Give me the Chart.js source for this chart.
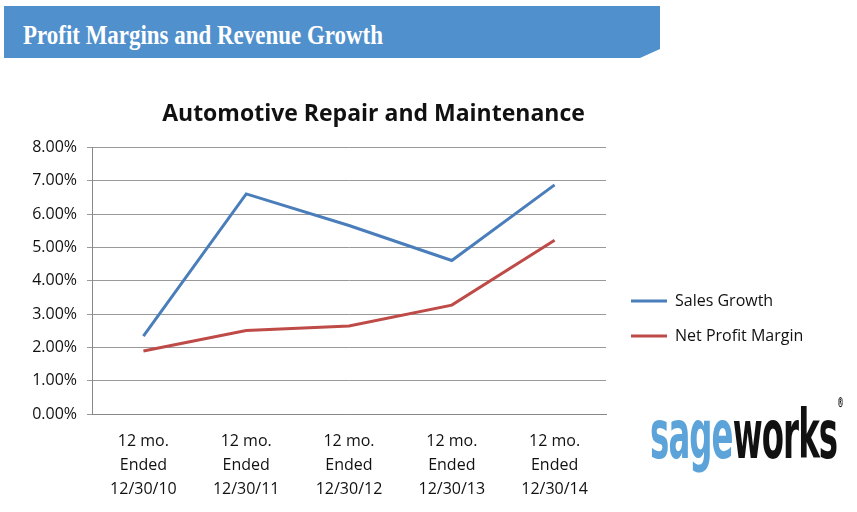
<!DOCTYPE html>
<html><head><meta charset="utf-8">
<script src="https://cdn.jsdelivr.net/npm/chart.js@4"></script>
<style>
html,body{margin:0;padding:0;background:#fff;width:857px;height:512px;overflow:hidden;}
#banner{position:absolute;left:4px;top:6px;width:656px;height:52px;background:#5090CC;
 clip-path:polygon(0 0,656px 0,656px 43px,636px 52px,0 52px);}
#banner span{position:absolute;left:19px;top:16px;color:#fff;font:bold 27px/27px "Liberation Serif","Times New Roman",serif;transform-origin:0 0;transform:scaleX(0.85);white-space:nowrap;}
#wrap{position:absolute;left:0;top:85px;width:857px;height:427px;}
#logo{position:absolute;left:650px;top:395px;font:bold 40px "DejaVu Sans Condensed","DejaVu Sans",sans-serif;transform-origin:0 0;transform:scale(0.9,1.7);white-space:nowrap;letter-spacing:-1px;}
#logo .a{color:#5BA3D9}#logo .b{color:#111}
#logo sup{font-size:8px;vertical-align:top;}
</style></head><body>
<div id="banner"><span>Profit Margins and Revenue Growth</span></div>
<div id="wrap"><canvas id="c"></canvas></div>
<div id="logo"><span class="a">sage</span><span class="b">works</span><sup class="b">®</sup></div>
<script>
const categories = [["12 mo.","Ended","12/30/10"],["12 mo.","Ended","12/30/11"],["12 mo.","Ended","12/30/12"],["12 mo.","Ended","12/30/13"],["12 mo.","Ended","12/30/14"]];
const salesGrowth = [2.34, 6.61, 5.66, 4.61, 6.88];
const netProfitMargin = [1.89, 2.51, 2.64, 3.27, 5.22];
const chartTitle = "Automotive Repair and Maintenance";

const placeBlocks = {id:'placeBlocks', beforeInit(chart){
  const lg = chart.legend; const fitL = lg.fit, drawL = lg.draw;
  lg.fit = function(){ fitL.call(this); this.width = 251; };
  lg.draw = function(){ const c=this.ctx; c.save(); c.translate(6,20); drawL.call(this); c.restore(); };
  const tb = chart.titleBlock; const drawT = tb.draw;
  tb.draw = function(){ const c=this.ctx; c.save(); c.translate(-60,0); drawT.call(this); c.restore(); };
}};

new Chart(document.getElementById('c'), {
  type:'line',
  data:{labels:categories, datasets:[
    {label:'Sales Growth', data:salesGrowth, borderColor:'#4A7EBB', backgroundColor:'#4A7EBB', borderWidth:3, pointRadius:0, pointStyle:'line', tension:0},
    {label:'Net Profit Margin', data:netProfitMargin, borderColor:'#BE4B48', backgroundColor:'#BE4B48', borderWidth:3, pointRadius:0, pointStyle:'line', tension:0}
  ]},
  options:{
    responsive:true, maintainAspectRatio:false, animation:false,
    layout:{padding:{left:10,right:0,top:0,bottom:0}},
    plugins:{
      title:{display:true, text:chartTitle, color:'#111', font:{family:'"Open Sans"', size:23, weight:'bold'}, padding:{top:16,bottom:19}},
      legend:{position:'right', align:'center', labels:{usePointStyle:true, pointStyleWidth:36, color:'#111', font:{family:'"Open Sans"', size:16}, padding:19}},
      tooltip:{enabled:false}
    },
    scales:{
      x:{offset:true, grid:{display:false, drawTicks:false}, border:{color:'#888', width:1},
         ticks:{color:'#111', font:{family:'"Open Sans"', size:16, lineHeight:1.5}, padding:15, maxRotation:0},
         afterFit(s){ s.height = 98; }},
      y:{min:0, max:8, grid:{color:'#999', drawTicks:true, tickLength:5}, border:{color:'#888'},
         ticks:{stepSize:1, color:'#111', font:{family:'"Open Sans"', size:16}, padding:10, callback:v=>v.toFixed(2)+'%'},
         afterFit(s){ s.width = 82; }}
    }
  },
  plugins:[placeBlocks]
});
</script>
</body></html>
